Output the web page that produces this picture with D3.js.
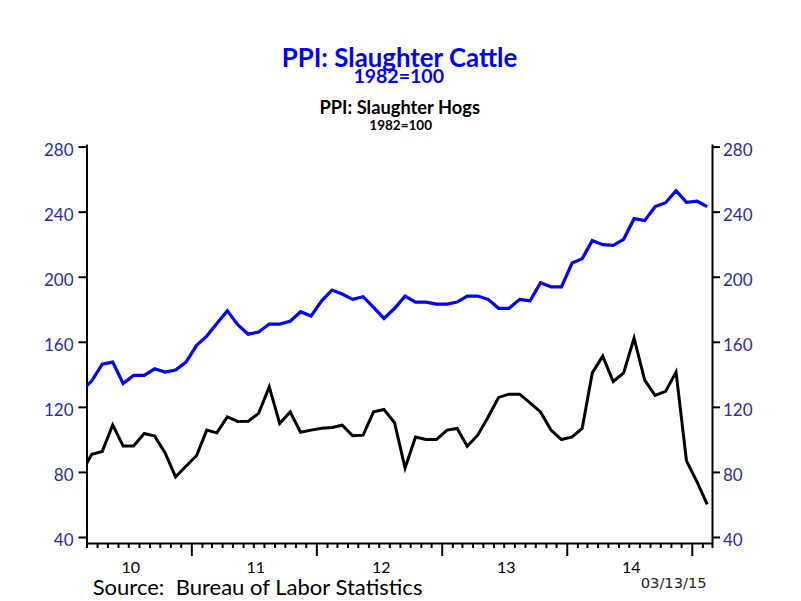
<!DOCTYPE html>
<html><head><meta charset="utf-8">
<script src="https://cdn.jsdelivr.net/npm/d3@7"></script>
<style>body{margin:0;background:#fff}</style>
</head><body>
<svg id="chart" width="801" height="601"></svg>
<script>
const months = [
 "2010-02","2010-03","2010-04","2010-05","2010-06","2010-07","2010-08","2010-09","2010-10","2010-11","2010-12",
 "2011-01","2011-02","2011-03","2011-04","2011-05","2011-06","2011-07","2011-08","2011-09","2011-10","2011-11","2011-12",
 "2012-01","2012-02","2012-03","2012-04","2012-05","2012-06","2012-07","2012-08","2012-09","2012-10","2012-11","2012-12",
 "2013-01","2013-02","2013-03","2013-04","2013-05","2013-06","2013-07","2013-08","2013-09","2013-10","2013-11","2013-12",
 "2014-01","2014-02","2014-03","2014-04","2014-05","2014-06","2014-07","2014-08","2014-09","2014-10","2014-11","2014-12",
 "2015-01","2015-02"];
const cattle = [130,136,146.3,147.5,134.4,139.3,139.3,143.4,141.4,142.6,147.5,
 157.8,163.5,171.3,179.1,170.5,164.7,166,170.9,170.9,172.6,178.5,175.8,
 185.2,191.8,189.4,186.1,187.7,181.2,174.4,180.6,188.1,184.4,184.4,183.2,
 183.2,184.4,188.1,188.1,186.1,180.6,180.6,186.1,185.2,196.3,193.8,193.8,
 208.4,211.1,222.2,219.7,219.3,223,235.7,234.5,243.1,245.5,252.9,245.8,
 246.4,243.1];
const hogs = [80,90.9,92.6,108.9,96,96,103.6,102,91.7,76.9,83.5,
 90.1,105.7,104,113.8,111,111.2,116,132.3,109.8,116.9,104.4,105.7,
 106.9,107.3,108.7,102.2,102.6,116.9,118.4,110.2,82.4,101.5,99.9,99.9,
 105.7,106.7,95.8,102.6,113.8,125.8,127.8,127.8,122.5,116.9,105.7,99.9,
 101.5,106.7,140.9,151.2,135.6,140.9,162.3,136.4,127,129.5,141.4,86.8,
 73.8,60.1];
const yTicks = [40,80,120,160,200,240,280];
const years = [2010,2011,2012,2013,2014];
const yearLabels = ["10","11","12","13","14"];
const titleMain = "PPI: Slaughter Cattle";
const titleMainSub = "1982=100";
const titleSecond = "PPI: Slaughter Hogs";
const titleSecondSub = "1982=100";
const sourceText = "Source:  Bureau of Labor Statistics";
const dateText = "03/13/15";

const svg = d3.select("#chart");
const parse = d3.timeParse("%Y-%m");
const mid = s => { const a = parse(s); const b = d3.timeMonth.offset(a,1); return new Date((+a + +b)/2); };

const L = 86.5, R = 712, T = 144, B = 543;
const x = d3.scaleTime().domain([new Date(2010,2,1), new Date(2015,2,1)]).range([L, R]);
const y = d3.scaleLinear().domain([36.3, 281.6]).range([B, T]);
const axisColor = "#2b2ba6";
const font = "Lato, 'Liberation Sans', sans-serif";

svg.append("defs").append("clipPath").attr("id","clip")
  .append("rect").attr("x", L).attr("y", 0).attr("width", R-L).attr("height", 601);

function styleAxis(g){
  g.selectAll("path.domain").attr("stroke","#000").attr("stroke-width",2);
  g.selectAll(".tick line").attr("stroke","#000").attr("stroke-width",2);
}

// Left axis
const gl = svg.append("g").attr("transform",`translate(${L},0)`)
  .call(d3.axisLeft(y).tickValues(yTicks).tickSize(8).tickSizeOuter(0).tickPadding(5));
styleAxis(gl);
gl.selectAll("text").attr("font-family",font).attr("font-size",17).attr("fill",axisColor).attr("dy","0.5em");

// Right axis
const gr = svg.append("g").attr("transform",`translate(${R},0)`)
  .call(d3.axisRight(y).tickValues(yTicks).tickSize(8).tickSizeOuter(0).tickPadding(3));
styleAxis(gr);
gr.selectAll("text").attr("font-family",font).attr("font-size",17).attr("fill",axisColor).attr("dy","0.5em");

// Bottom axis with month ticks
const monthTicks = d3.timeMonth.range(new Date(2010,2,1), new Date(2015,2,2));
const gb = svg.append("g").attr("transform",`translate(0,${B})`)
  .call(d3.axisBottom(x).tickValues(monthTicks).tickSize(5).tickSizeOuter(0).tickFormat(""));
styleAxis(gb);
gb.selectAll(".tick line").attr("y2", d => d.getMonth() === 0 ? 13 : 5);

// Year labels
const gy = svg.append("g").attr("transform",`translate(0,${B})`)
  .call(d3.axisBottom(x).tickValues(years.map(yr => new Date(yr,6,1))).tickSize(0)
    .tickFormat((d,i) => yearLabels[i]));
gy.select("path.domain").remove();
gy.selectAll("text").attr("font-family",font).attr("font-size",16).attr("fill","#000")
  .attr("y",30).attr("dy",0).attr("dx",2);

// Lines
const data = s => months.map((m,i) => ({date: mid(m), v: s[i]}));
const line = d3.line().x(d => x(d.date)).y(d => y(d.v));
const lines = svg.append("g").attr("clip-path","url(#clip)");
lines.append("path").datum(data(cattle)).attr("d",line)
  .attr("fill","none").attr("stroke","#0000ff").attr("stroke-width",3.2);
lines.append("path").datum(data(hogs)).attr("d",line)
  .attr("fill","none").attr("stroke","#000").attr("stroke-width",3);

// Texts
function fit(sel, w){
  const n = sel.node(); const cur = n.getComputedTextLength();
  const fs = parseFloat(sel.attr("font-size"));
  sel.attr("font-size", fs * w / cur);
}
function txt(str, cx, by, fs, w, fill, weight, anchor, fam){
  const t = svg.append("text").attr("x",cx).attr("y",by).attr("text-anchor",anchor||"middle")
    .attr("font-family",fam||font).attr("font-size",fs).attr("font-weight",weight||"normal")
    .attr("fill",fill).style("white-space","pre").text(str);
  fit(t,w); return t;
}
txt(titleMain, 399.5, 66.7, 24, 235.6, "#0000ff", "bold");
txt(titleMainSub, 398.7, 83.3, 20, 90.7, "#0000ff", "bold");
txt(titleSecond, 399.7, 114, 17, 160.7, "#000", "bold");
txt(titleSecondSub, 400.7, 130, 13, 62.7, "#000", "bold");
txt(sourceText, 92.7, 595, 22, 330, "#000", "normal", "start");
txt(dateText, 640.7, 588.3, 14, 66, "#222", "normal", "start", "'DejaVu Sans', sans-serif");
</script>
</body></html>
